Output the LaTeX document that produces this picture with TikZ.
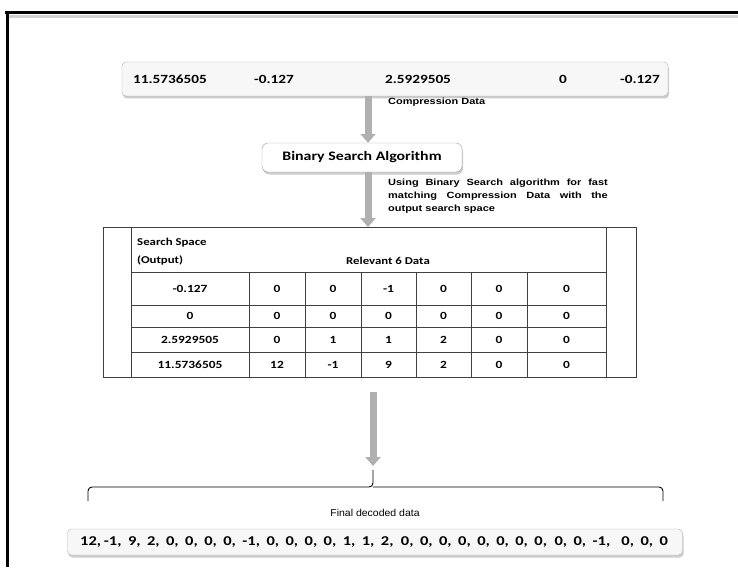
\documentclass[tikz,border=0pt]{standalone}
\usepackage{fontspec}
\usepackage{graphicx}
\setmainfont{Carlito}
\newfontfamily\arialf{Liberation Sans}
\usetikzlibrary{arrows.meta,shadows}
\newcommand{\sx}[1]{\scalebox{1.22}[1]{#1}}
\begin{document}
\begin{tikzpicture}[x=1pt,y=-1pt,
  valbox/.style={draw=gray!60, rounded corners=4pt, fill=gray!6, inner sep=0pt,
    drop shadow={shadow xshift=1pt, shadow yshift=-2.5pt, opacity=0.5, fill=gray!80}},
  bsabox/.style={draw=gray!75, rounded corners=6pt, fill=white, inner sep=0pt,
    drop shadow={shadow xshift=1pt, shadow yshift=-2.5pt, opacity=0.5, fill=gray!80}},
  bigarrow/.style={line width=7pt, draw=gray!62, -{Triangle[length=9pt,width=15pt]}},
  valtext/.style={font=\fontsize{12.5}{14}\bfseries, inner sep=0pt},
  celltext/.style={font=\fontsize{11}{13}\bfseries, inner sep=0pt},
  hdrtext/.style={font=\fontsize{10.5}{12}\bfseries, inner sep=0pt},
  lbltext/.style={font=\arialf\fontsize{9}{11}\bfseries\selectfont, inner sep=0pt},
  tline/.style={draw=black!75, line width=0.9pt},
  bracel/.style={draw=black, line width=0.9pt, rounded corners=4pt}
]
\useasboundingbox (0,0) rectangle (738,567);
% frame
\fill[gray!35] (9,15) rectangle (738,18);
\draw[line width=3pt] (5,13) -- (738,13);
\draw[line width=3pt] (7,11.5) -- (7,567);

% top box
\node[valbox, minimum width=546pt, minimum height=34pt] (top) at (395,79) {};
\node[valtext] (v1) at (170,79) {\sx{11.5736505}};
\node[valtext] (v2) at (274,79) {\sx{-0.127}};
\node[valtext] (v3) at (418,79) {\sx{2.5929505}};
\node[valtext] (v4) at (563,79) {\sx{0}};
\node[valtext] (v5) at (640,79) {\sx{-0.127}};

\node[lbltext, anchor=west] (cd) at (388,102) {\sx{Compression Data}};

% binary search box
\node[bsabox, minimum width=200pt, minimum height=29pt] (bsa) at (362,157.5)
  {\fontsize{13}{15}\bfseries\sx{Binary Search Algorithm}};

\node[inner sep=0pt, anchor=north west] (usel) at (388,179)
  {\sx{\parbox{180pt}{\arialf\fontsize{9}{13}\bfseries\selectfont
  Using Binary Search algorithm for fast\linebreak matching Compression Data with the\linebreak output search space}}};

% table
\node[draw=black!75, line width=0.9pt, minimum width=533pt, minimum height=150pt,
  anchor=north west, inner sep=0pt] (tbl) at (103,227) {};
\draw[tline] (131,227) -- (131,377);
\draw[tline] (606,227) -- (606,377);
\draw[tline] (131,272) -- (606,272);
\draw[tline] (131,305) -- (606,305);
\draw[tline] (131,327) -- (606,327);
\draw[tline] (131,352) -- (606,352);
\foreach \xx in {249,305,361,416,471,527} \draw[tline] (\xx,272) -- (\xx,377);

\node[hdrtext, anchor=west] (h1) at (137,243) {\sx{Search Space}};
\node[hdrtext, anchor=west] (h2) at (137,260) {\sx{(Output)}};
\node[hdrtext] (h3) at (388,261) {\sx{Relevant 6 Data}};

\foreach \yy/\a/\b/\c/\d/\e/\f/\g in {
  288.5/-0.127/0/0/-1/0/0/0,
  316/0/0/0/0/0/0/0,
  339.5/2.5929505/0/1/1/2/0/0,
  364.5/11.5736505/12/-1/9/2/0/0}{
  \node[celltext] at (190,\yy) {\sx{\a}};
  \node[celltext] at (277,\yy) {\sx{\b}};
  \node[celltext] at (333,\yy) {\sx{\c}};
  \node[celltext] at (388.5,\yy) {\sx{\d}};
  \node[celltext] at (443.5,\yy) {\sx{\e}};
  \node[celltext] at (499,\yy) {\sx{\f}};
  \node[celltext] at (566.5,\yy) {\sx{\g}};
}

% arrows
\coordinate (a3s) at (373,392);
\coordinate (a3e) at (373,466);
\draw[bigarrow] (top.south -| 368,0) -- (bsa.north -| 368,0);
\draw[bigarrow] (bsa.south -| 368,0) -- (tbl.north -| 368,0);
\draw[bigarrow] (a3s) -- (a3e);

% brace
\coordinate (btip) at (373,470);
\draw[bracel] (88,501) -- (88,487) -- (373,487) -- (btip);
\draw[bracel] (663,501) -- (663,487) -- (373,487);

\node[inner sep=0pt, font=\arialf\fontsize{10}{12}\selectfont] (fdd) at (375,513) {\scalebox{1.05}[1]{Final decoded data}};

% final box
\node[valbox, minimum width=615pt, minimum height=26pt] (fin) at (375,542) {};
\node[inner sep=0pt, font=\fontsize{13.5}{15}\bfseries] (fint) at (374,542)
  {\sx{12,\,-1,\, 9,\, 2,\, 0,\, 0,\, 0,\, 0,\, -1,\, 0,\, 0,\, 0,\, 0,\, 1,\, 1,\, 2,\ \ 0,\, 0,\, 0,\, 0,\, 0,\, 0,\, 0,\, 0,\ \ 0,\, 0,\, -1,\ \ \ 0,\, 0,\, 0}};
\end{tikzpicture}
\end{document}
